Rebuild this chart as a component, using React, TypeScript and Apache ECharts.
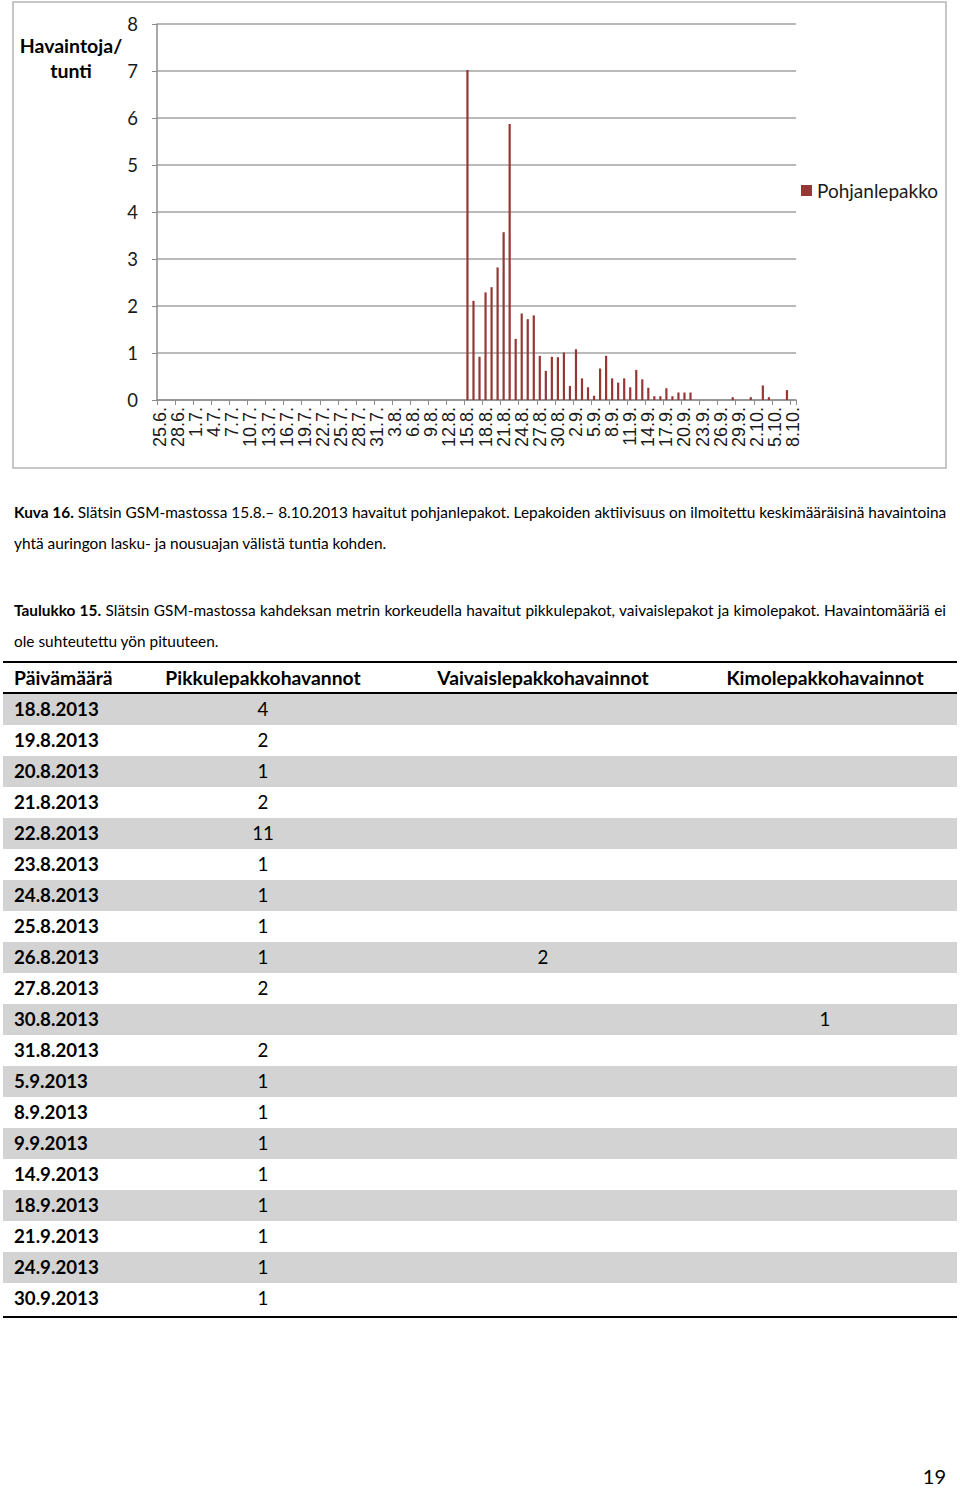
import React, { useEffect, useRef } from "react";
import * as echarts from "echarts";

// ---------- chart data ----------
const dayLabels = [
  "25.6.", "26.6.", "27.6.", "28.6.", "29.6.", "30.6.",
  "1.7.", "2.7.", "3.7.", "4.7.", "5.7.", "6.7.", "7.7.", "8.7.", "9.7.", "10.7.",
  "11.7.", "12.7.", "13.7.", "14.7.", "15.7.", "16.7.", "17.7.", "18.7.", "19.7.", "20.7.",
  "21.7.", "22.7.", "23.7.", "24.7.", "25.7.", "26.7.", "27.7.", "28.7.", "29.7.", "30.7.", "31.7.",
  "1.8.", "2.8.", "3.8.", "4.8.", "5.8.", "6.8.", "7.8.", "8.8.", "9.8.", "10.8.",
  "11.8.", "12.8.", "13.8.", "14.8.", "15.8.", "16.8.", "17.8.", "18.8.", "19.8.", "20.8.",
  "21.8.", "22.8.", "23.8.", "24.8.", "25.8.", "26.8.", "27.8.", "28.8.", "29.8.", "30.8.", "31.8.",
  "1.9.", "2.9.", "3.9.", "4.9.", "5.9.", "6.9.", "7.9.", "8.9.", "9.9.", "10.9.",
  "11.9.", "12.9.", "13.9.", "14.9.", "15.9.", "16.9.", "17.9.", "18.9.", "19.9.", "20.9.",
  "21.9.", "22.9.", "23.9.", "24.9.", "25.9.", "26.9.", "27.9.", "28.9.", "29.9.", "30.9.",
  "1.10.", "2.10.", "3.10.", "4.10.", "5.10.", "6.10.", "7.10.", "8.10."
];

// Pohjanlepakko, observations per hour (no recording before 15.8.)
const pohjanlepakko = [
  null, null, null, null, null, null,
  null, null, null, null, null, null, null, null, null, null,
  null, null, null, null, null, null, null, null, null, null,
  null, null, null, null, null, null, null, null, null, null, null,
  null, null, null, null, null, null, null, null, null, null,
  null, null, null, null, 7.02, 2.11, 0.92, 2.29, 2.40, 2.82,
  3.57, 5.87, 1.30, 1.84, 1.72, 1.80, 0.94, 0.62, 0.92, 0.91, 1.01,
  0.30, 1.08, 0.46, 0.27, 0.09, 0.67, 0.94, 0.46, 0.37, 0.46,
  0.27, 0.64, 0.44, 0.26, 0.08, 0.08, 0.25, 0.08, 0.16, 0.16,
  0.16, 0, 0, 0, 0, 0, 0, 0.06, 0, 0,
  0.06, 0, 0.31, 0.06, 0, 0, 0.21, 0
];

const yTicks = [0, 1, 2, 3, 4, 5, 6, 7, 8];

// ---------- table data ----------
const tableHeaders = ["Päivämäärä", "Pikkulepakkohavannot", "Vaivaislepakkohavainnot", "Kimolepakkohavainnot"];
const tableDates = [
  "18.8.2013", "19.8.2013", "20.8.2013", "21.8.2013", "22.8.2013", "23.8.2013", "24.8.2013",
  "25.8.2013", "26.8.2013", "27.8.2013", "30.8.2013", "31.8.2013", "5.9.2013", "8.9.2013",
  "9.9.2013", "14.9.2013", "18.9.2013", "21.9.2013", "24.9.2013", "30.9.2013"
];
const pikkulepakko = [4, 2, 1, 2, 11, 1, 1, 1, 1, 2, null, 2, 1, 1, 1, 1, 1, 1, 1, 1];
const vaivaislepakko = [null, null, null, null, null, null, null, null, 2, null, null, null, null, null, null, null, null, null, null, null];
const kimolepakko = [null, null, null, null, null, null, null, null, null, null, 1, null, null, null, null, null, null, null, null, null];

const FONT = "Lato, 'Noto Sans', sans-serif";

function Chart() {
  const ref = useRef<HTMLDivElement>(null);
  useEffect(() => {
    const chart = echarts.init(ref.current!, null, { renderer: "svg" });
    chart.setOption({
      animation: false,
      grid: { left: 157, top: 24, width: 639, height: 376, containLabel: false },
      legend: {
        show: true,
        left: 801,
        top: 181,
        padding: 0,
        icon: "rect",
        itemWidth: 11,
        itemHeight: 11,
        itemGap: 6,
        textStyle: { fontFamily: FONT, fontSize: 19, color: "#1a1a1a" },
        data: ["Pohjanlepakko"],
      },
      xAxis: {
        type: "category",
        data: dayLabels,
        boundaryGap: true,
        axisLine: { show: true, lineStyle: { color: "#8c8c8c", width: 1.5 } },
        axisTick: { show: true, interval: 2, length: 5, lineStyle: { color: "#8c8c8c", width: 1 } },
        axisLabel: {
          interval: 2,
          rotate: 90,
          margin: 7,
          showMinLabel: true,
          showMaxLabel: true,
          hideOverlap: false,
          fontFamily: "'Liberation Sans', Arial, sans-serif",
          fontSize: 18,
          lineHeight: 14,
          color: "#1a1a1a",
        },
        splitLine: { show: false },
      },
      yAxis: {
        type: "value",
        min: yTicks[0],
        max: yTicks[yTicks.length - 1],
        interval: 1,
        axisLine: { show: true, lineStyle: { color: "#8c8c8c", width: 1.5 } },
        axisTick: { show: true, length: 5, lineStyle: { color: "#8c8c8c", width: 1 } },
        axisLabel: { margin: 19, fontFamily: FONT, fontSize: 18.5, color: "#1a1a1a" },
        splitLine: { show: true, lineStyle: { color: "#a3a3a3", width: 1.5 } },
      },
      series: [
        {
          type: "bar",
          name: "Pohjanlepakko",
          data: pohjanlepakko,
          barWidth: 2.2,
          itemStyle: { color: "#953735" },
        },
      ],
      graphic: [
        {
          type: "rect",
          silent: true,
          z: -10,
          shape: { x: 13, y: 2, width: 933, height: 466 },
          style: { fill: "none", stroke: "#b5b5b5", lineWidth: 1.5 },
        },
        {
          type: "text",
          silent: true,
          style: {
            text: "Havaintoja/",
            x: 71,
            y: 45,
            textAlign: "center",
            textVerticalAlign: "middle",
            fontFamily: FONT,
            fontSize: 19.5,
            fontWeight: "bold",
            fill: "#000",
          },
        },
        {
          type: "text",
          silent: true,
          style: {
            text: "tunti",
            x: 71,
            y: 70,
            textAlign: "center",
            textVerticalAlign: "middle",
            fontFamily: FONT,
            fontSize: 19.5,
            fontWeight: "bold",
            fill: "#000",
          },
        },
      ],
    });
    return () => chart.dispose();
  }, []);
  return <div ref={ref} style={{ position: "absolute", left: 0, top: 0, width: 960, height: 480 }} />;
}

const ROW_H = 31;
const TABLE_TOP = 694;
const colCenters = [0, 260, 540, 822];

function Cell({ center, children, bold }: { center: number; children: any; bold?: boolean }) {
  return (
    <span
      style={{
        position: "absolute",
        left: center - 150,
        width: 300,
        top: 0,
        textAlign: "center",
        lineHeight: ROW_H + "px",
        fontWeight: bold ? 700 : 400,
        whiteSpace: "nowrap",
      }}
    >
      {children}
    </span>
  );
}

export default function App() {
  const captionStyle: React.CSSProperties = {
    position: "absolute",
    left: 14,
    width: 932,
    fontSize: 15.4,
    lineHeight: "31px",
    whiteSpace: "nowrap",
  };
  return (
    <div
      style={{
        position: "absolute",
        left: 0,
        top: 0,
        width: 960,
        height: 1488,
        background: "#fff",
        fontFamily: FONT,
        color: "#000",
        overflow: "hidden",
      }}
    >
      <Chart />

      <div style={{ ...captionStyle, top: 497, textAlign: "justify", textAlignLast: "justify" }}>
        <b>Kuva 16.</b> Slätsin GSM-mastossa 15.8.– 8.10.2013 havaitut pohjanlepakot. Lepakoiden aktiivisuus on ilmoitettu keskimääräisinä havaintoina
      </div>
      <div style={{ ...captionStyle, top: 528 }}>yhtä auringon lasku- ja nousuajan välistä tuntia kohden.</div>

      <div style={{ ...captionStyle, top: 595, textAlign: "justify", textAlignLast: "justify" }}>
        <b>Taulukko 15.</b> Slätsin GSM-mastossa kahdeksan metrin korkeudella havaitut pikkulepakot, vaivaislepakot ja kimolepakot. Havaintomääriä ei
      </div>
      <div style={{ ...captionStyle, top: 626 }}>ole suhteutettu yön pituuteen.</div>

      {/* table */}
      <div style={{ position: "absolute", left: 3, top: 661, width: 954, height: 2, background: "#000" }} />
      <div style={{ position: "absolute", left: 3, top: 662, width: 954, height: ROW_H, fontSize: 19.3 }}>
        <span style={{ position: "absolute", left: 11, top: 0, lineHeight: ROW_H + "px", fontWeight: 700 }}>{tableHeaders[0]}</span>
        <Cell center={colCenters[1]} bold>{tableHeaders[1]}</Cell>
        <Cell center={colCenters[2]} bold>{tableHeaders[2]}</Cell>
        <Cell center={colCenters[3]} bold>{tableHeaders[3]}</Cell>
      </div>
      <div style={{ position: "absolute", left: 3, top: 692, width: 954, height: 2, background: "#000" }} />

      {tableDates.map((d, i) => (
        <div
          key={d}
          style={{
            position: "absolute",
            left: 3,
            top: TABLE_TOP + i * ROW_H,
            width: 954,
            height: ROW_H,
            background: i % 2 === 0 ? "#d3d3d3" : "transparent",
            fontSize: 18.7,
          }}
        >
          <span style={{ position: "absolute", left: 11, top: 0, lineHeight: ROW_H + "px", fontWeight: 700 }}>{d}</span>
          <Cell center={colCenters[1]}>{pikkulepakko[i] ?? ""}</Cell>
          <Cell center={colCenters[2]}>{vaivaislepakko[i] ?? ""}</Cell>
          <Cell center={colCenters[3]}>{kimolepakko[i] ?? ""}</Cell>
        </div>
      ))}
      <div
        style={{
          position: "absolute",
          left: 3,
          top: TABLE_TOP + tableDates.length * ROW_H + 2,
          width: 954,
          height: 2,
          background: "#000",
        }}
      />

      <div style={{ position: "absolute", left: 900, width: 46, top: 1466, textAlign: "right", fontSize: 20, lineHeight: "20px" }}>19</div>
    </div>
  );
}
